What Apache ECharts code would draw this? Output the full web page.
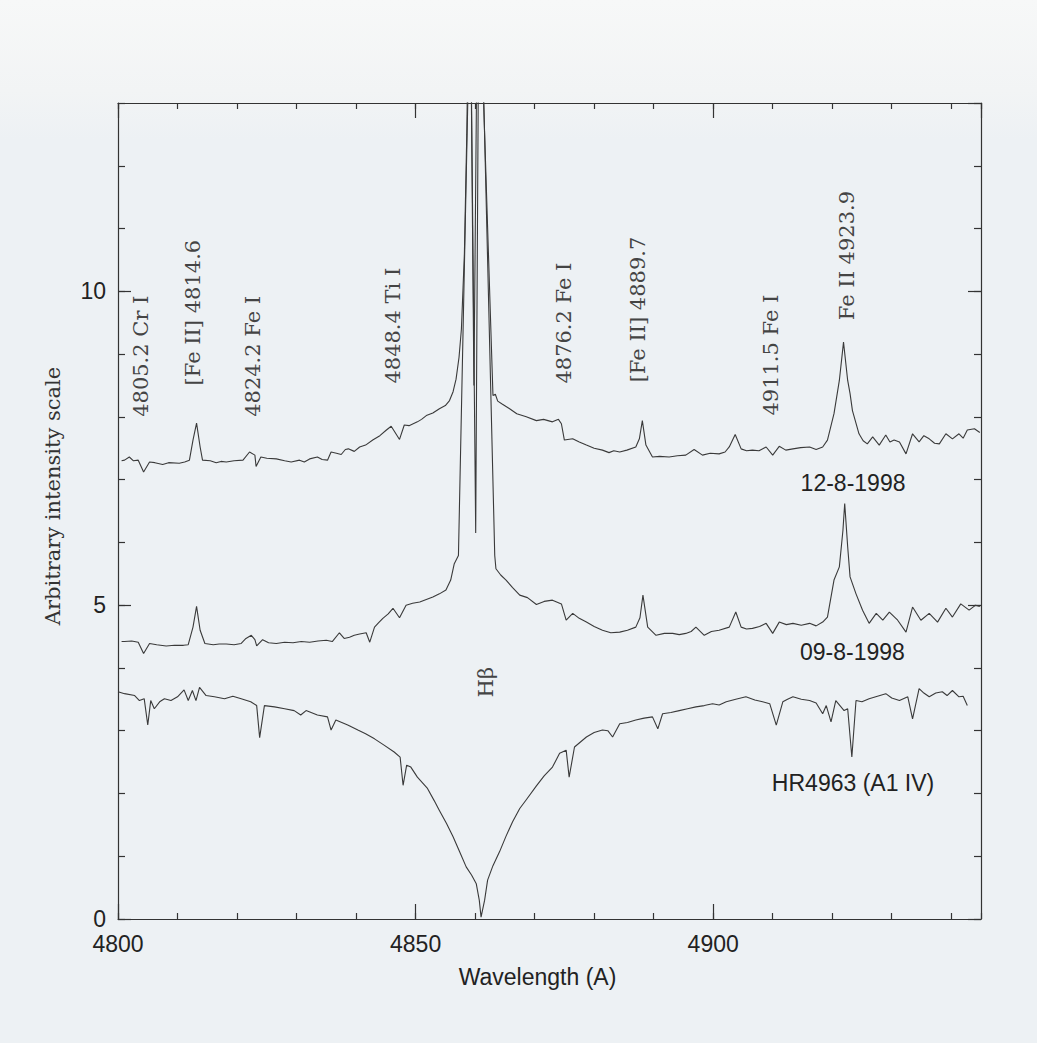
<!DOCTYPE html>
<html>
<head>
<meta charset="utf-8">
<title>Spectra around H-beta</title>
<script src="https://cdn.jsdelivr.net/npm/echarts@6/dist/echarts.min.js"></script>
<style>
  html, body { margin: 0; padding: 0; }
  body { background: linear-gradient(180deg, #f7f8f8 0px, #f2f4f5 90px, #edf1f4 140px, #edf1f4 100%); }
  #chart { width: 1037px; height: 1043px; }
</style>
</head>
<body>
<div id="chart"></div>
<script>
// 12-8-1998 spectrum
var wl12 = [4800.6, 4801.1, 4801.9, 4802.6, 4803.4, 4804.3, 4805.3, 4806.2, 4807.5, 4808.5,
  4810.3, 4811.2, 4812.0, 4812.6, 4813.2, 4813.8, 4814.2, 4815.5, 4816.5, 4817.3,
  4818.2, 4819.5, 4821.0, 4822.1, 4823.0, 4823.2, 4824.0, 4825.0, 4826.6, 4828.0,
  4829.1, 4830.5, 4831.3, 4832.2, 4833.5, 4834.3, 4835.2, 4835.8, 4836.7, 4837.5,
  4838.2, 4838.7, 4839.7, 4840.6, 4841.6, 4842.8, 4844.0, 4845.1, 4845.9, 4847.3,
  4848.1, 4848.9, 4850.3, 4851.0, 4851.8, 4852.9, 4854.0, 4855.0, 4855.7, 4856.3,
  4856.8, 4857.3, 4857.7, 4858.2, 4858.6, 4859.1, 4859.8, 4860.5, 4860.9, 4863.0,
  4863.4, 4863.8, 4864.6, 4865.8, 4867.0, 4868.6, 4870.3, 4871.5, 4873.0, 4874.0,
  4874.5, 4875.0, 4876.4, 4877.5, 4878.7, 4880.0, 4881.4, 4882.5, 4883.3, 4884.3,
  4885.5, 4887.0, 4887.6, 4888.1, 4888.7, 4889.8, 4891.0, 4892.6, 4894.0, 4895.4,
  4896.8, 4898.2, 4899.5, 4901.0, 4902.0, 4902.7, 4903.7, 4904.7, 4905.6, 4906.6,
  4907.7, 4908.9, 4910.0, 4911.1, 4912.2, 4913.4, 4914.7, 4916.2, 4917.3, 4918.4,
  4919.2, 4920.3, 4921.2, 4921.9, 4922.6, 4923.0, 4923.4, 4924.5, 4925.2, 4925.9,
  4926.8, 4927.9, 4929.0, 4929.7, 4930.4, 4931.3, 4932.4, 4933.5, 4934.6, 4935.4,
  4936.3, 4937.2, 4938.0, 4939.1, 4940.2, 4941.3, 4942.0, 4942.7, 4943.9, 4944.8];
var flux12 = [7.30, 7.31, 7.36, 7.30, 7.31, 7.12, 7.28, 7.27, 7.24, 7.27,
  7.26, 7.28, 7.31, 7.63, 7.90, 7.52, 7.31, 7.30, 7.27, 7.29,
  7.28, 7.30, 7.31, 7.44, 7.39, 7.21, 7.36, 7.34, 7.33, 7.30,
  7.28, 7.31, 7.28, 7.33, 7.36, 7.32, 7.31, 7.44, 7.42, 7.40,
  7.48, 7.49, 7.45, 7.52, 7.55, 7.63, 7.70, 7.79, 7.85, 7.64,
  7.87, 7.86, 7.92, 7.96, 8.02, 8.06, 8.13, 8.18, 8.26, 8.40,
  8.60, 8.95, 9.40, 10.6, 12.5, 16.0, 8.50, 16.0, 14.6, 8.34,
  8.36, 8.25, 8.20, 8.13, 8.05, 8.00, 7.94, 7.96, 7.92, 7.96,
  7.89, 7.63, 7.65, 7.60, 7.55, 7.50, 7.47, 7.43, 7.46, 7.44,
  7.47, 7.52, 7.65, 7.94, 7.55, 7.36, 7.37, 7.36, 7.38, 7.39,
  7.48, 7.39, 7.42, 7.41, 7.44, 7.52, 7.72, 7.49, 7.46, 7.47,
  7.46, 7.52, 7.39, 7.53, 7.47, 7.49, 7.51, 7.52, 7.48, 7.52,
  7.63, 8.05, 8.58, 9.19, 8.58, 8.37, 8.10, 7.73, 7.62, 7.57,
  7.68, 7.55, 7.71, 7.60, 7.63, 7.60, 7.41, 7.73, 7.60, 7.70,
  7.65, 7.58, 7.57, 7.73, 7.65, 7.73, 7.66, 7.79, 7.81, 7.75];

// 09-8-1998 spectrum
var wl09 = [4800.6, 4801.1, 4802.3, 4803.4, 4804.3, 4805.3, 4806.5, 4808.1, 4809.5, 4811.0,
  4811.8, 4812.6, 4813.2, 4813.8, 4814.6, 4816.0, 4817.0, 4818.2, 4819.5, 4820.7,
  4821.5, 4822.4, 4823.0, 4823.3, 4824.3, 4825.3, 4826.6, 4828.0, 4829.4, 4830.8,
  4832.2, 4833.6, 4835.0, 4836.0, 4837.2, 4838.0, 4838.9, 4839.7, 4840.6, 4841.7,
  4842.3, 4843.1, 4843.8, 4844.5, 4845.4, 4846.2, 4847.3, 4848.4, 4849.5, 4850.7,
  4851.8, 4852.9, 4854.0, 4855.1, 4855.9, 4856.5, 4857.2, 4859.2, 4860.1, 4860.7,
  4863.3, 4863.5, 4864.3, 4865.2, 4866.3, 4867.5, 4868.8, 4870.3, 4871.6, 4873.0,
  4874.5, 4875.3, 4876.4, 4877.5, 4878.7, 4880.0, 4881.4, 4882.8, 4884.3, 4885.6,
  4887.0, 4887.7, 4888.2, 4889.0, 4890.4, 4891.8, 4893.2, 4894.3, 4895.4, 4896.3,
  4897.1, 4898.5, 4899.7, 4901.0, 4902.7, 4903.8, 4904.7, 4905.6, 4906.6, 4907.8,
  4908.9, 4910.0, 4911.1, 4912.3, 4913.4, 4914.8, 4916.2, 4917.3, 4918.4, 4919.2,
  4920.3, 4921.2, 4921.8, 4922.1, 4922.6, 4923.0, 4924.0, 4925.1, 4926.2, 4927.4,
  4928.5, 4929.6, 4931.0, 4932.4, 4933.5, 4934.9, 4936.3, 4937.7, 4939.1, 4940.2,
  4941.6, 4943.0, 4944.1, 4944.8];
var flux09 = [4.42, 4.42, 4.43, 4.41, 4.23, 4.39, 4.37, 4.35, 4.36, 4.36,
  4.37, 4.65, 4.98, 4.60, 4.39, 4.37, 4.38, 4.38, 4.37, 4.39,
  4.47, 4.52, 4.45, 4.35, 4.45, 4.40, 4.39, 4.41, 4.40, 4.42,
  4.41, 4.43, 4.44, 4.42, 4.56, 4.47, 4.49, 4.52, 4.54, 4.56,
  4.41, 4.65, 4.72, 4.79, 4.86, 4.95, 4.80, 5.00, 5.03, 5.05,
  5.09, 5.13, 5.18, 5.24, 5.40, 5.66, 5.79, 15.0, 6.15, 16.0,
  5.79, 5.58, 5.48, 5.40, 5.28, 5.16, 5.12, 5.01, 5.06, 5.08,
  5.02, 4.76, 4.87, 4.79, 4.73, 4.66, 4.60, 4.56, 4.57, 4.60,
  4.65, 4.80, 5.16, 4.65, 4.52, 4.55, 4.55, 4.53, 4.55, 4.58,
  4.65, 4.52, 4.58, 4.60, 4.65, 4.89, 4.65, 4.62, 4.63, 4.66,
  4.71, 4.55, 4.73, 4.69, 4.71, 4.68, 4.71, 4.67, 4.73, 4.81,
  5.40, 5.61, 6.19, 6.62, 5.93, 5.45, 5.18, 4.92, 4.71, 4.87,
  4.76, 4.89, 4.76, 4.57, 4.97, 4.76, 4.87, 4.73, 4.95, 4.81,
  5.02, 4.92, 5.00, 4.98];

// HR4963 (A1 IV) comparison star
var wlHR = [4800.0, 4801.1, 4802.8, 4803.6, 4804.4, 4805.0, 4805.5, 4806.1, 4807.0, 4807.8,
  4808.9, 4810.0, 4811.1, 4811.8, 4812.5, 4813.1, 4813.7, 4814.8, 4816.2, 4817.9,
  4819.3, 4820.7, 4822.3, 4823.3, 4823.8, 4824.6, 4826.3, 4828.0, 4829.6, 4830.7,
  4831.6, 4833.5, 4835.2, 4835.8, 4836.6, 4838.6, 4840.3, 4841.6, 4843.1, 4844.7,
  4846.4, 4847.4, 4847.9, 4848.5, 4849.2, 4850.3, 4852.0, 4853.1, 4854.0, 4855.2,
  4856.3, 4857.4, 4858.5, 4859.4, 4860.2, 4860.7, 4861.0, 4861.6, 4862.1, 4863.0,
  4864.1, 4865.2, 4866.3, 4867.5, 4868.6, 4870.3, 4871.6, 4873.0, 4874.2, 4875.3,
  4875.8, 4876.7, 4877.7, 4878.7, 4880.0, 4881.4, 4882.3, 4883.1, 4884.3, 4885.6,
  4887.0, 4888.4, 4889.8, 4890.7, 4891.5, 4892.9, 4894.3, 4895.7, 4897.1, 4898.5,
  4899.9, 4901.0, 4902.2, 4903.8, 4905.5, 4907.0, 4908.3, 4909.5, 4910.6, 4911.7,
  4912.5, 4913.4, 4914.8, 4916.2, 4917.3, 4918.4, 4919.0, 4919.8, 4920.6, 4921.3,
  4922.0, 4922.6, 4923.3, 4924.0, 4925.0, 4926.2, 4927.6, 4929.0, 4930.0, 4931.3,
  4932.7, 4933.5, 4934.6, 4935.4, 4936.3, 4937.4, 4938.5, 4939.3, 4940.2, 4941.3,
  4942.0, 4942.7];
var fluxHR = [3.62, 3.59, 3.56, 3.48, 3.51, 3.09, 3.48, 3.35, 3.46, 3.51,
  3.48, 3.54, 3.65, 3.48, 3.64, 3.48, 3.69, 3.56, 3.54, 3.51,
  3.55, 3.51, 3.46, 3.40, 2.89, 3.40, 3.38, 3.35, 3.32, 3.25,
  3.32, 3.25, 3.22, 3.01, 3.17, 3.09, 3.01, 2.95, 2.87, 2.77,
  2.66, 2.58, 2.13, 2.45, 2.42, 2.26, 2.08, 1.89, 1.73, 1.52,
  1.31, 1.07, 0.83, 0.70, 0.56, 0.30, 0.03, 0.30, 0.62, 0.85,
  1.07, 1.32, 1.55, 1.76, 1.90, 2.12, 2.28, 2.42, 2.64, 2.69,
  2.26, 2.74, 2.82, 2.90, 2.97, 3.01, 3.00, 2.90, 3.11, 3.13,
  3.17, 3.20, 3.22, 3.03, 3.27, 3.29, 3.32, 3.35, 3.38, 3.40,
  3.43, 3.41, 3.46, 3.50, 3.54, 3.49, 3.46, 3.43, 3.09, 3.46,
  3.50, 3.54, 3.50, 3.48, 3.44, 3.27, 3.40, 3.14, 3.48, 3.40,
  3.32, 3.35, 2.58, 3.48, 3.46, 3.51, 3.55, 3.59, 3.52, 3.48,
  3.54, 3.19, 3.67, 3.60, 3.54, 3.60, 3.62, 3.56, 3.64, 3.54,
  3.55, 3.40];

// line identifications: [text, wavelength, intensity where the text starts]
var lineIds = [
  ['4805.2 Cr I', 4803.9, 8.0],
  ['[Fe II] 4814.6', 4812.6, 8.5],
  ['4824.2 Fe I', 4822.6, 8.0],
  ['4848.4 Ti I', 4846.2, 8.53],
  ['4876.2 Fe I', 4875.0, 8.53],
  ['[Fe II] 4889.7', 4887.3, 8.55],
  ['4911.5 Fe I', 4909.7, 8.02],
  ['Fe II 4923.9', 4922.5, 9.54],
  ['H\u03b2', 4861.8, 3.53]
];
// spectrum names: [text, wavelength, intensity]
var spectrumNames = [
  ['12-8-1998', 4923.5, 6.94],
  ['09-8-1998', 4923.4, 4.25],
  ['HR4963 (A1 IV)', 4923.5, 2.16]
];

var ink = '#333';
var sans = '"Liberation Sans", Arial, sans-serif';
var serif = '"DejaVu Serif", serif';

function pairs(xs, ys) {
  return xs.map(function (x, i) { return [x, ys[i]]; });
}

function xAxisOf(position, step, tickLen, main) {
  return {
    type: 'value', position: position, min: 4800, max: 4945, interval: step,
    name: main && position === 'bottom' ? 'Wavelength (A)' : '',
    nameLocation: 'middle', nameGap: 46,
    nameTextStyle: { color: '#222', fontFamily: sans, fontSize: 23, padding: [0, 24, 0, 0] },
    axisLine: { show: main, onZero: false, lineStyle: { color: ink, width: 1.2 } },
    axisTick: { inside: true, length: tickLen, lineStyle: { color: ink, width: 1.2 } },
    axisLabel: {
      show: main && position === 'bottom', showMaxLabel: false, margin: 13,
      color: '#222', fontFamily: sans, fontSize: 23,
      formatter: function (v) { return String(v); }
    },
    splitLine: { show: false }
  };
}

function yAxisOf(position, step, tickLen, main) {
  return {
    type: 'value', position: position, min: 0, max: 13, interval: step,
    name: main && position === 'left' ? 'Arbitrary intensity scale' : '',
    nameLocation: 'middle', nameGap: 55, nameRotate: 90,
    nameTextStyle: { color: ink, fontFamily: serif, fontSize: 21, padding: [0, 0, 0, 30] },
    axisLine: { show: main, onZero: false, lineStyle: { color: ink, width: 1.2 } },
    axisTick: { inside: true, length: tickLen, lineStyle: { color: ink, width: 1.2 } },
    axisLabel: {
      show: main && position === 'left', showMaxLabel: false, margin: 12,
      color: '#222', fontFamily: sans, fontSize: 23
    },
    splitLine: { show: false }
  };
}

function spectrum(name, xs, ys) {
  return {
    name: name, type: 'line', data: pairs(xs, ys),
    xAxisIndex: 0, yAxisIndex: 0,
    showSymbol: false, clip: true,
    lineStyle: { color: '#3a3a3a', width: 1.1 }
  };
}

var chart = echarts.init(document.getElementById('chart'), null, { renderer: 'svg' });
chart.setOption({
  animation: false,
  backgroundColor: 'transparent',
  grid: { left: 118, right: 56, top: 103, bottom: 124 },
  xAxis: [
    xAxisOf('bottom', 50, 15, true),
    xAxisOf('bottom', 10, 6, false),
    xAxisOf('top', 50, 15, true),
    xAxisOf('top', 10, 6, false)
  ],
  yAxis: [
    yAxisOf('left', 5, 13, true),
    yAxisOf('left', 1, 7, false),
    yAxisOf('right', 5, 13, true),
    yAxisOf('right', 1, 7, false)
  ],
  series: [
    spectrum('12-8-1998', wl12, flux12),
    spectrum('09-8-1998', wl09, flux09),
    spectrum('HR4963 (A1 IV)', wlHR, fluxHR)
  ]
});

// labels placed at data positions
var graphics = [];
lineIds.forEach(function (d) {
  var p = chart.convertToPixel({ xAxisIndex: 0, yAxisIndex: 0 }, [d[1], d[2]]);
  graphics.push({
    type: 'text', x: p[0], y: p[1], rotation: Math.PI / 2,
    style: { text: d[0], fill: '#444', font: '21px ' + serif, align: 'left', verticalAlign: 'middle' }
  });
});
spectrumNames.forEach(function (d) {
  var p = chart.convertToPixel({ xAxisIndex: 0, yAxisIndex: 0 }, [d[1], d[2]]);
  graphics.push({
    type: 'text', x: p[0], y: p[1],
    style: { text: d[0], fill: '#222', font: '23px ' + sans, align: 'center', verticalAlign: 'middle' }
  });
});
chart.setOption({ graphic: graphics });
</script>
</body>
</html>
